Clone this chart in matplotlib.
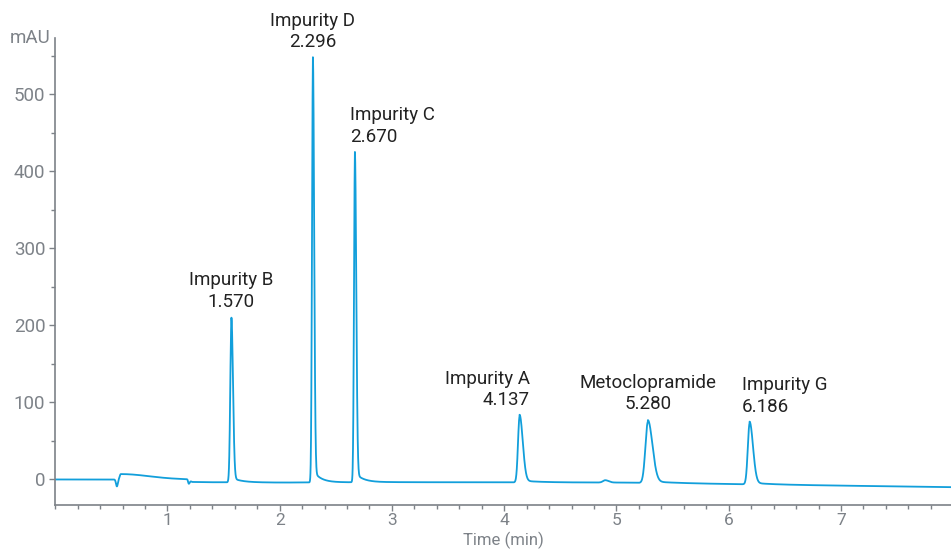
import numpy as np
import matplotlib
matplotlib.use('Agg')
from matplotlib import pyplot as plt
from matplotlib.ticker import MultipleLocator

plt.rcParams['font.family'] = ['Roboto', 'DejaVu Sans']

# peak table (apex in mAU)
peak_names = ['Impurity B', 'Impurity D', 'Impurity C', 'Impurity A', 'Metoclopramide', 'Impurity G']
peak_rt = [1.570, 2.296, 2.670, 4.137, 5.280, 6.186]
peak_apex = [210, 548, 425, 84, 77, 75]
peak_sigma_left = [0.010, 0.008, 0.008, 0.014, 0.022, 0.016]
peak_sigma_right = [0.014, 0.011, 0.012, 0.028, 0.040, 0.030]

# small features on the baseline (time, height, left width, right width)
minor_rt = [0.55, 0.585, 1.19, 4.90]
minor_height = [-9, 7, -5, 3]
minor_sl = [0.008, 0.01, 0.006, 0.02]
minor_sr = [0.008, 0.25, 0.008, 0.03]

# baseline level (mAU) at given times
base_t = [0.0, 0.5, 1.18, 1.22, 2.0, 3.0, 5.0, 6.0, 7.0, 8.0]
base_y = [0.0, 0.0, 0.0, -3.5, -4.0, -3.5, -4.0, -6.0, -8.0, -10.0]

# label alignment and offset from apex (min, mAU)
label_ha = ['center', 'center', 'left', 'right', 'center', 'left']
label_dx = [0.0, 0.0, -0.04, 0.09, 0.0, -0.07]
label_dy = [9, 8, 8, 7, 9, 8]

t = np.linspace(0, 8, 8001)
y = np.interp(t, base_t, base_y)


def bump(t, rt, h, sl, sr):
    s = np.where(t < rt, sl, sr)
    return h * np.exp(-0.5 * ((t - rt) / s) ** 2)


for rt, apex, sl, sr in zip(peak_rt, peak_apex, peak_sigma_left, peak_sigma_right):
    h = (apex - np.interp(rt, base_t, base_y)) / 1.03
    y = y + bump(t, rt, h, sl, sr)
    # tailing
    y = y + np.where(t >= rt, h * 0.03 * np.exp(-(t - rt) / (sr * 6)), 0)
for rt, h, sl, sr in zip(minor_rt, minor_height, minor_sl, minor_sr):
    y = y + bump(t, rt, h, sl, sr)

fig = plt.figure(figsize=(9.51, 5.5), dpi=100)
ax = fig.add_axes([0.058, 0.082, 0.942, 0.849])
ax.plot(t, y, color='#129fdb', lw=1.3)

ax.set_xlim(0, 7.98)
ax.set_ylim(-33, 573)

grey = '#7d8288'
for s in ['top', 'right']:
    ax.spines[s].set_visible(False)
for s in ['left', 'bottom']:
    ax.spines[s].set_color(grey)
    ax.spines[s].set_linewidth(1.2)

ax.xaxis.set_minor_locator(MultipleLocator(0.2))
ax.yaxis.set_minor_locator(MultipleLocator(50))
ax.set_xticks([1, 2, 3, 4, 5, 6, 7])
ax.set_yticks([0, 100, 200, 300, 400, 500])
ax.tick_params(which='both', colors=grey, labelsize=13.5, width=1)
ax.tick_params(which='major', length=4, pad=3)
ax.tick_params(axis='x', which='major', pad=1.5, labelsize=12.5)
ax.tick_params(which='minor', length=3)

ax.set_xlabel('Time (min)', color=grey, fontsize=12)
ax.xaxis.set_label_coords(0.5, -0.057)
ax.text(-0.005, 1.0, 'mAU', transform=ax.transAxes, ha='right', va='center',
        color=grey, fontsize=13.5)

for name, rt, apex, ha, dx, dy in zip(peak_names, peak_rt, peak_apex, label_ha, label_dx, label_dy):
    ax.text(rt + dx, apex + dy, name + '\n' + f'{rt:.3f}', ha=ha, va='bottom',
            fontsize=13.5, color='#222222', linespacing=1.25, multialignment=ha)

fig.savefig('out.png', dpi=100)
